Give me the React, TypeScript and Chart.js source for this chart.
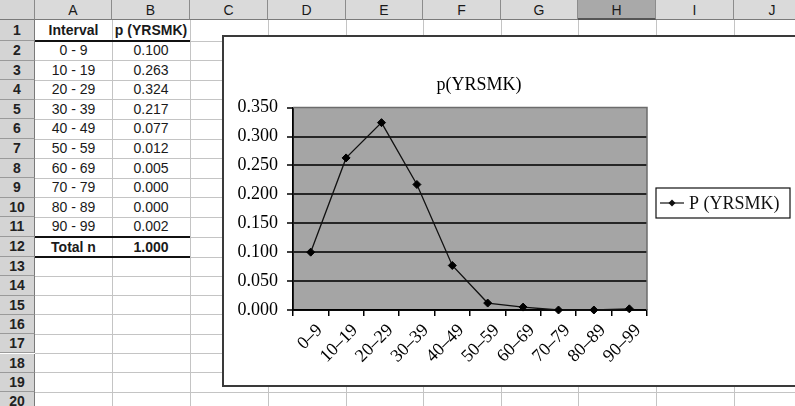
import React, { useEffect, useRef } from 'react';
import { Chart, registerables } from 'chart.js';

Chart.register(...registerables);

// ---------- data ----------
const categories = ['0–9', '10–19', '20–29', '30–39', '40–49', '50–59', '60–69', '70–79', '80–89', '90–99'];
const probabilities = [0.1, 0.263, 0.324, 0.217, 0.077, 0.012, 0.005, 0.0, 0.0, 0.002];
const sheetIntervals = ['0 - 9', '10 - 19', '20 - 29', '30 - 39', '40 - 49', '50 - 59', '60 - 69', '70 - 79', '80 - 89', '90 - 99'];
const sheetTotal = '1.000';
const columnLetters = ['A', 'B', 'C', 'D', 'E', 'F', 'G', 'H', 'I', 'J'];
const chartTitle = 'p(YRSMK)';
const seriesLabel = 'P (YRSMK)';
const yMin = 0;
const yMax = 0.35;
const yStep = 0.05;

// ---------- sheet layout ----------
const colBounds = [0, 35, 112, 190, 268, 346, 423, 501, 578, 656, 734, 811];
const rowBounds: number[] = (() => {
  const b = [0, 20, 41];
  for (let k = 1; k <= 10; k++) b.push(41 + 19.6 * k);
  b.push(257);
  for (let k = 1; k <= 8; k++) b.push(257 + 19.3 * k);
  return b;
})();

const plotBackground = {
  id: 'plotBackground',
  beforeDraw(chart: any) {
    const { ctx, chartArea: a } = chart;
    ctx.save();
    ctx.fillStyle = '#ffffff';
    ctx.fillRect(0, 0, chart.width, chart.height);
    ctx.fillStyle = '#a5a5a5';
    ctx.fillRect(a.left, a.top, a.right - a.left, a.bottom - a.top);
    ctx.restore();
  },
  beforeDatasetsDraw(chart: any) {
    const { ctx, chartArea: a } = chart;
    ctx.save();
    ctx.strokeStyle = '#6c6c6c';
    ctx.lineWidth = 1.5;
    ctx.beginPath();
    ctx.moveTo(a.left, a.top);
    ctx.lineTo(a.right, a.top);
    ctx.lineTo(a.right, a.bottom);
    ctx.stroke();
    ctx.restore();
  },
};

const boxedLegend = {
  id: 'boxedLegend',
  afterDraw(chart: any) {
    const { ctx, chartArea: a } = chart;
    const ds = chart.data.datasets[0];
    const left = a.right + 9;
    const top = 151;
    const w = 134;
    const h = 30;
    const cy = top + h / 2;
    ctx.save();
    ctx.strokeStyle = '#111';
    ctx.lineWidth = 1.2;
    ctx.strokeRect(left, top, w, h);
    ctx.strokeStyle = '#111';
    ctx.lineWidth = 1.2;
    ctx.beginPath();
    ctx.moveTo(left + 4, cy);
    ctx.lineTo(left + 28, cy);
    ctx.stroke();
    ctx.fillStyle = '#111';
    ctx.beginPath();
    ctx.moveTo(left + 16, cy - 3.5);
    ctx.lineTo(left + 19.5, cy);
    ctx.lineTo(left + 16, cy + 3.5);
    ctx.lineTo(left + 12.5, cy);
    ctx.closePath();
    ctx.fill();
    ctx.font = '18px "Liberation Serif", "Times New Roman", serif';
    ctx.textBaseline = 'middle';
    ctx.textAlign = 'left';
    ctx.fillText(ds.label, left + 33, cy + 1);
    ctx.restore();
  },
};

const serif = '"Liberation Serif", "Times New Roman", serif';

function ChartPanel() {
  const canvasRef = useRef<HTMLCanvasElement>(null);
  useEffect(() => {
    const canvas = canvasRef.current!;
    const chart = new Chart(canvas, {
      type: 'line',
      data: {
        labels: categories,
        datasets: [
          {
            label: seriesLabel,
            data: probabilities,
            borderColor: '#111',
            borderWidth: 1.3,
            backgroundColor: '#111',
            pointStyle: 'rectRot',
            pointRadius: 4,
            pointBackgroundColor: '#000',
            pointBorderColor: '#000',
            pointBorderWidth: 1,
            tension: 0,
            fill: false,
            clip: false as any,
          },
        ],
      },
      options: {
        animation: false,
        responsive: false,
        maintainAspectRatio: false,
        events: [],
        layout: { padding: { left: 0, right: 61, top: 0, bottom: 0 } },
        plugins: {
          legend: { display: false },
          tooltip: { enabled: false },
          title: {
            display: true,
            text: chartTitle,
            color: '#000',
            font: { family: serif, size: 18, weight: 'normal' as any, lineHeight: 1.2 },
            padding: { top: 37, bottom: 12 },
          },
        },
        scales: {
          x: {
            type: 'category',
            offset: true,
            grid: {
              display: true,
              drawOnChartArea: false,
              drawTicks: true,
              offset: true,
              tickLength: 6,
              color: '#000',
              lineWidth: 1.5,
            },
            border: { display: true, color: '#000', width: 1.8 },
            ticks: {
              autoSkip: false,
              maxRotation: 45,
              minRotation: 45,
              padding: 4,
              labelOffset: 9,
              color: '#000',
              font: { family: serif, size: 18 },
            },
            afterFit(s: any) {
              s.height = 75;
            },
          },
          y: {
            type: 'linear',
            position: 'left',
            min: yMin,
            max: yMax,
            grid: {
              color: (c: any) => (c.tick && Math.abs(c.tick.value - yMax) < 1e-9 ? 'rgba(0,0,0,0)' : '#262626'),
              lineWidth: 2,
              tickColor: '#000',
              tickWidth: 1.5,
              tickLength: 6,
            },
            border: { display: true, color: '#000', width: 1.8 },
            ticks: {
              stepSize: yStep,
              padding: 9,
              color: '#000',
              font: { family: serif, size: 18 },
              callback: (v: any) => Number(v).toFixed(3),
            },
            afterFit(s: any) {
              s.width = 69;
            },
          },
          yRight: {
            type: 'linear',
            position: 'right',
            display: true,
            min: 0,
            max: 1,
            grid: { display: false },
            border: { display: false },
            ticks: { display: false },
            afterFit(s: any) {
              s.width = 87;
            },
          },
        },
      },
      plugins: [plotBackground, boxedLegend],
    });
    return () => chart.destroy();
  }, []);
  return <canvas ref={canvasRef} width={571} height={348} style={{ display: 'block', width: 571, height: 348 }} />;
}

export default function App() {
  const els: React.ReactNode[] = [];
  const sans = '"Liberation Sans", Arial, Helvetica, sans-serif';

  // vertical gridlines
  for (let i = 2; i < colBounds.length; i++) {
    els.push(
      <div key={'v' + i} style={{ position: 'absolute', left: colBounds[i] - 0.5, top: 20, width: 1, height: 400, background: '#c4c4c4' }} />
    );
  }
  // horizontal gridlines
  for (let r = 2; r < rowBounds.length; r++) {
    els.push(
      <div key={'h' + r} style={{ position: 'absolute', left: 35, top: rowBounds[r] - 0.5, width: 780, height: 1, background: '#c4c4c4' }} />
    );
  }
  // column headers
  els.push(
    <div key="corner" style={{ position: 'absolute', left: 0, top: 0, width: 35, height: 20, background: '#d6d6d6', borderRight: '1px solid #8a8a8a', borderBottom: '1px solid #7a7a7a', boxSizing: 'border-box' }} />
  );
  columnLetters.forEach((c, i) => {
    const sel = c === 'H';
    els.push(
      <div
        key={'c' + c}
        style={{
          position: 'absolute',
          left: colBounds[i + 1],
          top: 0,
          width: colBounds[i + 2] - colBounds[i + 1],
          height: 20,
          background: sel ? '#a9a9a9' : '#dadada',
          borderRight: '1px solid #8c8c8c',
          borderBottom: sel ? '2px solid #555' : '1px solid #7a7a7a',
          boxSizing: 'border-box',
          textAlign: 'center',
          font: `14px ${sans}`,
          lineHeight: '20px',
          color: '#1a1a1a',
        }}
      >
        {c}
      </div>
    );
  });
  // row headers
  for (let r = 1; r < rowBounds.length - 1; r++) {
    const top = rowBounds[r];
    const h = rowBounds[r + 1] - top;
    els.push(
      <div
        key={'r' + r}
        style={{
          position: 'absolute',
          left: 0,
          top,
          width: 35,
          height: h,
          background: '#d4d4d4',
          borderRight: '1px solid #7a7a7a',
          borderBottom: '1px solid #9a9a9a',
          boxSizing: 'border-box',
          textAlign: 'center',
          font: `bold 14px ${sans}`,
          lineHeight: h - 1 + 'px',
          color: '#222',
        }}
      >
        {r}
      </div>
    );
  }
  // cell texts
  const cell = (key: string, row: number, col: number, text: string, bold: boolean) => {
    const top = rowBounds[row];
    const h = rowBounds[row + 1] - top;
    els.push(
      <div
        key={key}
        style={{
          position: 'absolute',
          left: colBounds[col],
          top,
          width: colBounds[col + 1] - colBounds[col],
          height: h,
          textAlign: 'center',
          font: `${bold ? 'bold ' : ''}14px ${sans}`,
          lineHeight: h + 'px',
          color: '#1a1a1a',
        }}
      >
        {text}
      </div>
    );
  };
  cell('a1', 1, 1, 'Interval', true);
  cell('b1', 1, 2, 'p (YRSMK)', true);
  sheetIntervals.forEach((s, i) => {
    cell('a' + (i + 2), i + 2, 1, s, false);
    cell('b' + (i + 2), i + 2, 2, probabilities[i].toFixed(3), false);
  });
  cell('a12', 12, 1, 'Total n', true);
  cell('b12', 12, 2, sheetTotal, true);
  // thick borders
  [rowBounds[2], rowBounds[12], rowBounds[13]].forEach((y, i) => {
    els.push(<div key={'t' + i} style={{ position: 'absolute', left: 35, top: y - 1, width: 155, height: 2, background: '#111' }} />);
  });

  return (
    <div style={{ position: 'fixed', left: 0, top: 0, width: 795, height: 406, overflow: 'hidden', background: '#fff' }}>
      {els}
      <div
        style={{
          position: 'absolute',
          left: 222,
          top: 35,
          width: 600,
          height: 352,
          border: '2px solid #3a3a3a',
          boxSizing: 'border-box',
          background: '#fff',
        }}
      >
        <ChartPanel />
      </div>
    </div>
  );
}
